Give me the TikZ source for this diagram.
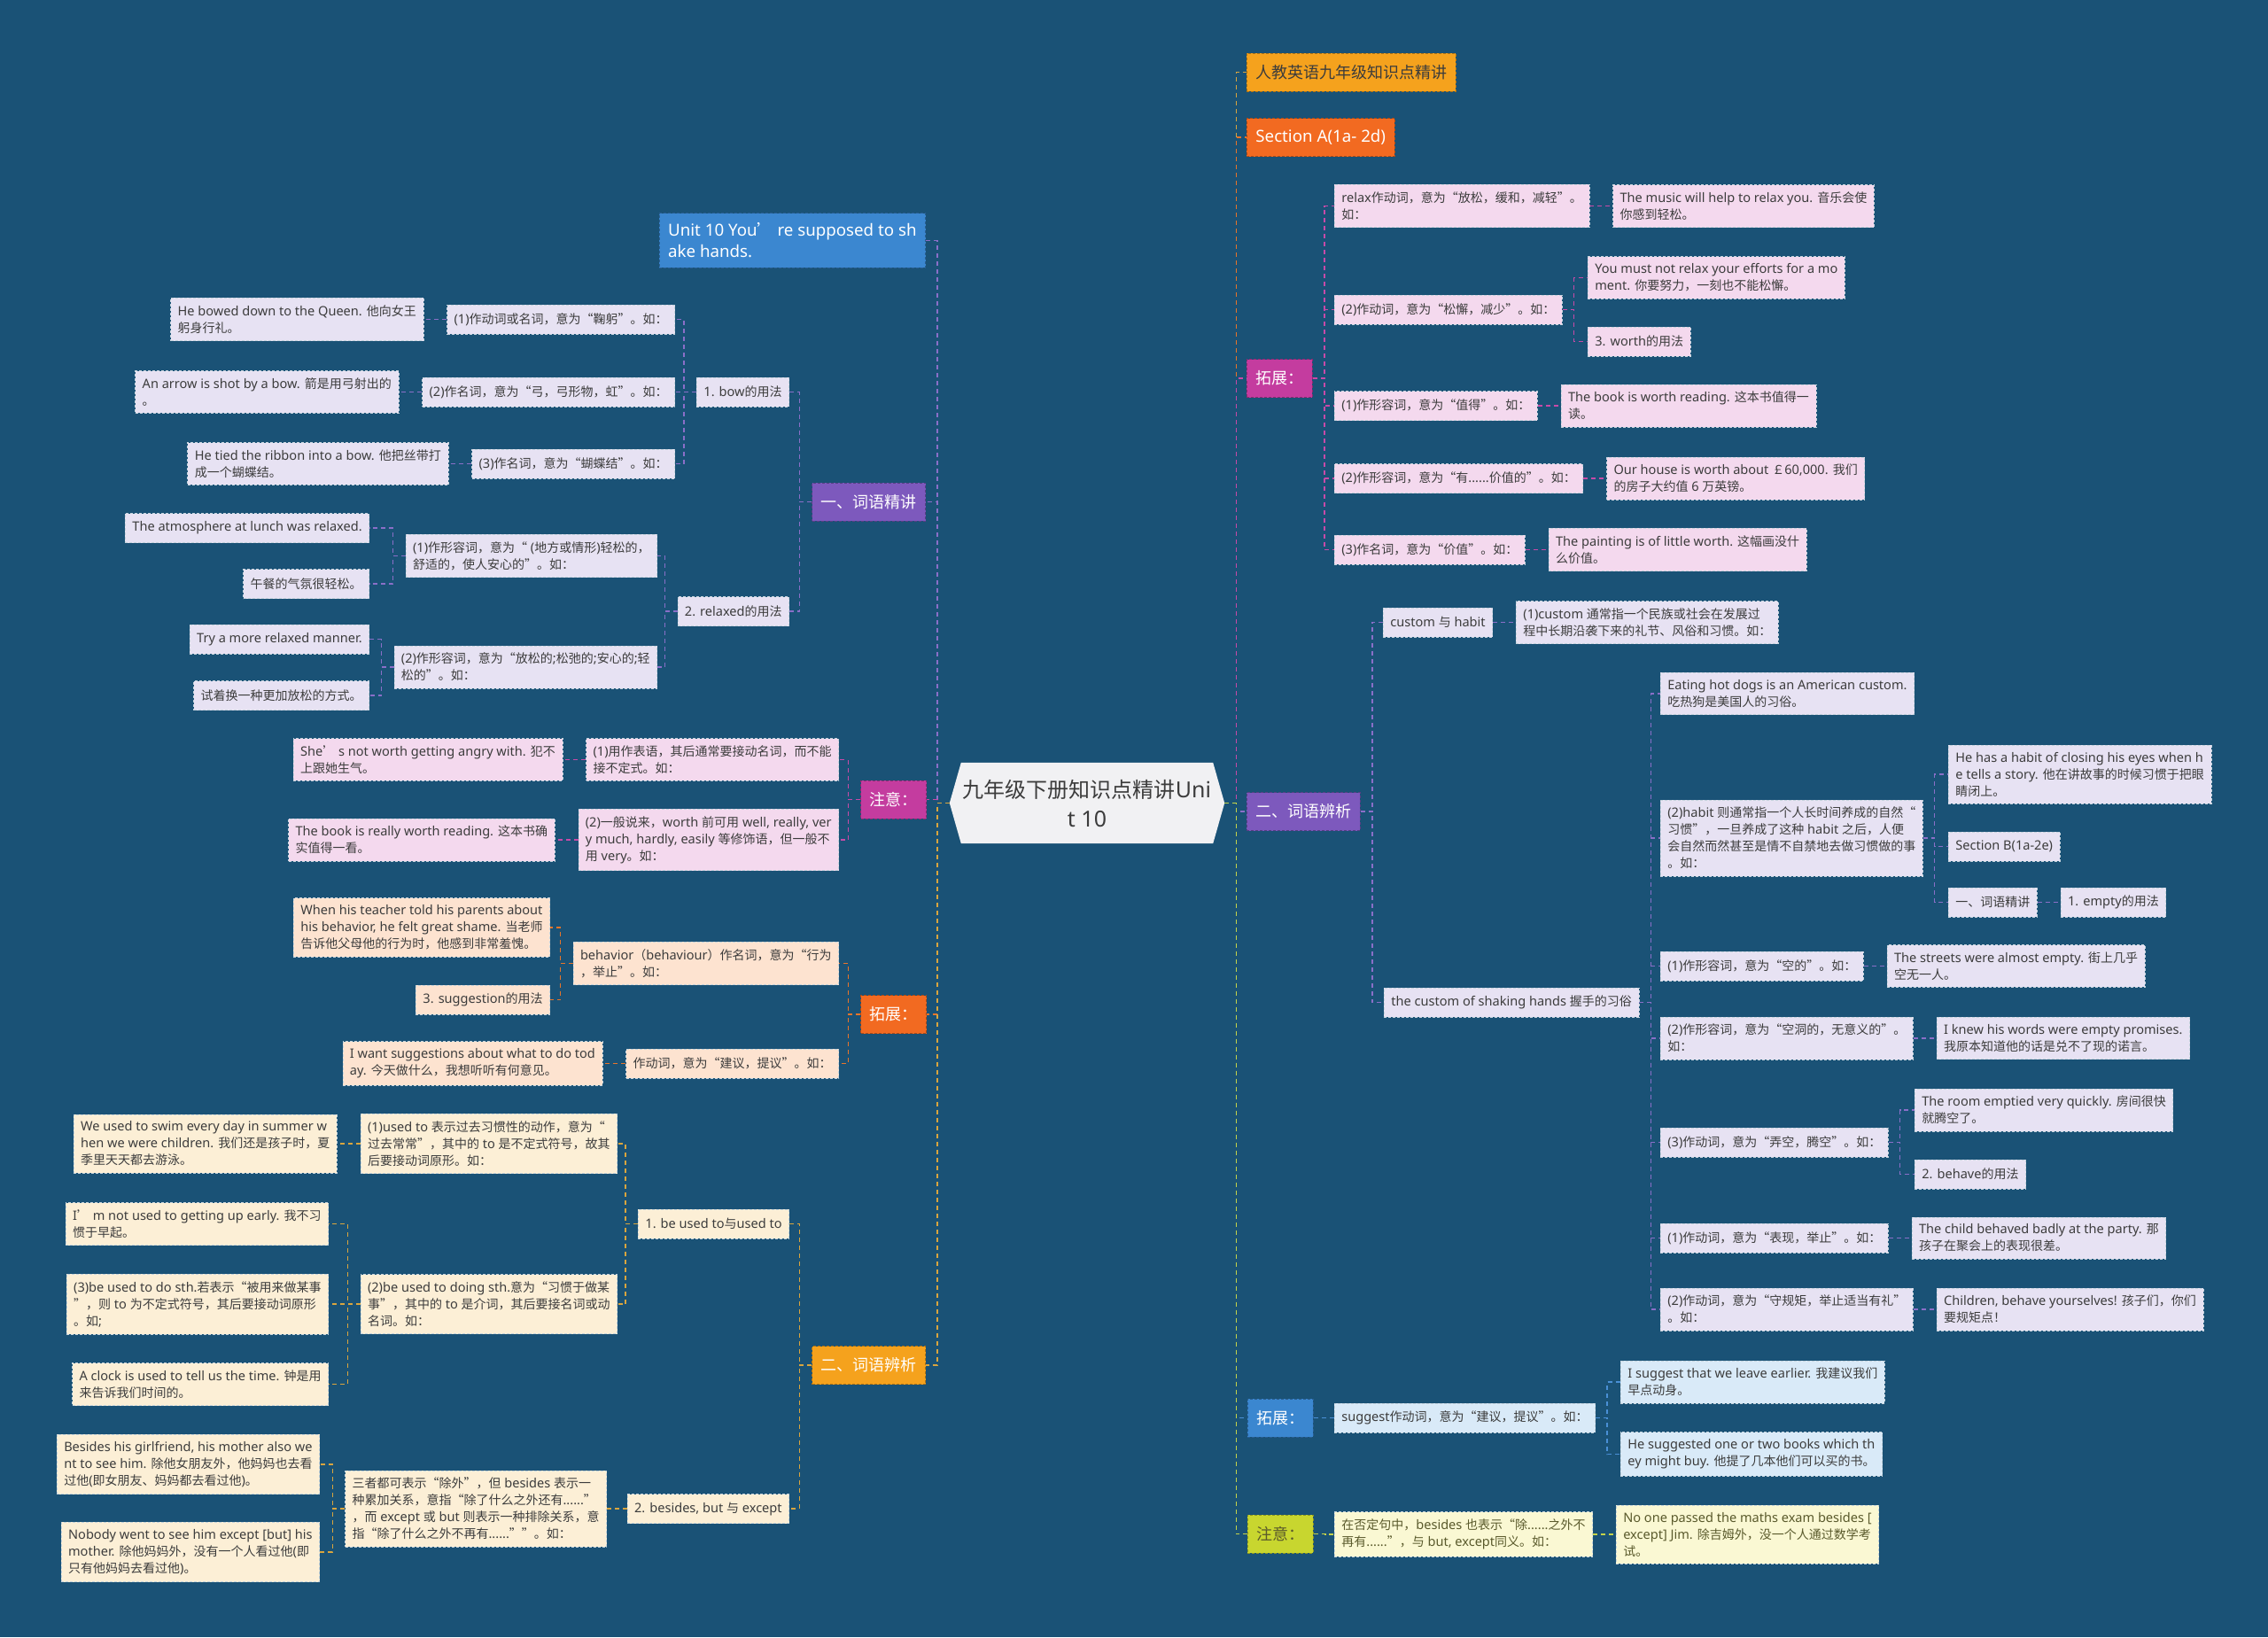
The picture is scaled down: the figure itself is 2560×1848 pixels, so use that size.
\documentclass[tikz,border=0pt]{standalone}
\usepackage{fontspec}
\setmainfont{Noto Sans}[Scale=1.04]
\newfontfamily\cjkfont{Noto Sans CJK SC}
\usetikzlibrary{positioning,backgrounds}

% CJK characters in their own font, Latin in Noto Sans
\newXeTeXintercharclass\cjkclass
\makeatletter
\count@="4E00
\loop \XeTeXcharclass\count@=\cjkclass \advance\count@ by 1 \ifnum\count@<"A000 \repeat
\count@="3000
\loop \XeTeXcharclass\count@=\cjkclass \advance\count@ by 1 \ifnum\count@<"3040 \repeat
\count@="FF00
\loop \XeTeXcharclass\count@=\cjkclass \advance\count@ by 1 \ifnum\count@<"FFF0 \repeat
\count@="2018
\loop \XeTeXcharclass\count@=\cjkclass \advance\count@ by 1 \ifnum\count@<"201E \repeat
\makeatother
\XeTeXinterchartokenstate=1
\XeTeXinterchartoks 0 \cjkclass = {\cjkfont}
\XeTeXinterchartoks 4095 \cjkclass = {\cjkfont}
\XeTeXinterchartoks \cjkclass 0 = {\rmfamily}
\XeTeXinterchartoks \cjkclass 4095 = {\rmfamily}

\definecolor{bgblue}{HTML}{1A5276}
\definecolor{txtgray}{HTML}{3C3C3C}
\definecolor{olivetxt}{HTML}{5A5A2C}
\definecolor{rootfill}{HTML}{F1F1F3}
\definecolor{lavfill}{HTML}{E7E2F3}
\definecolor{pinkfill}{HTML}{F4D9EE}
\definecolor{peachfill}{HTML}{FDE3D0}
\definecolor{creamfill}{HTML}{FCEFD6}
\definecolor{skyfill}{HTML}{D9EAF8}
\definecolor{limefill}{HTML}{FAF8D3}
\definecolor{purphead}{HTML}{7D59BD}
\definecolor{magenhead}{HTML}{C43C9F}
\definecolor{orghead}{HTML}{F26A21}
\definecolor{ambhead}{HTML}{F5A21D}
\definecolor{bluehead}{HTML}{3B87D0}
\definecolor{limehead}{HTML}{C8D62F}
\definecolor{purpline}{HTML}{8A6FC8}
\definecolor{magline}{HTML}{C84AA8}
\definecolor{orgline}{HTML}{E8752A}
\definecolor{ambline}{HTML}{D9A53E}
\definecolor{blueline}{HTML}{4A90D6}
\definecolor{limeline}{HTML}{C5D44A}

\begin{document}
\begin{tikzpicture}[x=1pt, y=-1pt,
    box/.style={rectangle, draw=white!75!bgblue, densely dashed, line width=0.7pt, inner xsep=8pt, inner ysep=8pt, minimum height=33pt, align=left, text=txtgray, font=\fontsize{14}{19}\selectfont},
    lavbox/.style={box, fill=lavfill},
    pinkbox/.style={box, fill=pinkfill},
    peachbox/.style={box, fill=peachfill},
    creambox/.style={box, fill=creamfill},
    skybox/.style={box, fill=skyfill},
    limebox/.style={box, fill=limefill, text=olivetxt},
    head/.style={rectangle, densely dashed, line width=0.8pt, inner xsep=10pt, inner ysep=6pt, minimum height=43pt, align=left, text=white, font=\fontsize{18}{24}\selectfont},
    headpurple/.style={head, fill=purphead, draw=purphead!70!black},
    headmagenta/.style={head, fill=magenhead, draw=magenhead!70!black},
    headorange/.style={head, fill=orghead, draw=orghead!70!black},
    headamber/.style={head, fill=ambhead, draw=ambhead!70!black},
    headblue/.style={head, fill=bluehead, draw=bluehead!70!black},
    headlime/.style={head, fill=limehead, draw=limehead!70!black, text=olivetxt},
    rootnode/.style={rectangle, minimum width=310pt, minimum height=91pt, inner sep=0pt, align=center, text=txtgray, font=\fontsize{24}{33}\selectfont},
    lk/.style={dash pattern=on 5pt off 4pt, line width=1.4pt},
    toleft/.style={lk, to path={-- ++(-14,0) |- (\tikztotarget)}},
    toright/.style={lk, to path={-- ++(13,0) |- (\tikztotarget)}}
]

% Background
\useasboundingbox (0,0) rectangle (2560,1848);
\begin{scope}[on background layer]
  \fill[bgblue] (0,0) rectangle (2560,1848);
\end{scope}

% Root
\node[rootnode] (root) at (1227,906.5) {九年级下册知识点精讲Uni\\t 10};
\begin{scope}[on background layer]
  \fill[rootfill] ([xshift=13pt]root.north west) -- ([xshift=-13pt]root.north east) -- (root.east)
    -- ([xshift=-13pt]root.south east) -- ([xshift=13pt]root.south west) -- (root.west) -- cycle;
\end{scope}

% Left main branches
\node[headblue, anchor=east, inner ysep=11pt] (unit) at (1045,271.5) {Unit 10 You’ re supposed to sh\\ake hands.};
\node[headpurple, anchor=east] (ci1) at (1045,566.5) {一、词语精讲};
\node[headmagenta, anchor=east] (zy1) at (1046,902.5) {注意：};
\node[headorange, anchor=east] (tz1) at (1046,1145) {拓展：};
\node[headamber, anchor=east] (ci2) at (1045,1541) {二、词语辨析};

% 一、词语精讲 (left)
\node[lavbox, anchor=east] (bow) at (891,442.5) {1. bow的用法};
\node[lavbox, anchor=east] (rel) at (891,690) {2. relaxed的用法};
\node[lavbox, anchor=east] (bowa) at (762,360.5) {(1)作动词或名词，意为“鞠躬”。如：};
\node[lavbox, anchor=east] (bowb) at (762,442.5) {(2)作名词，意为“弓，弓形物，虹”。如：};
\node[lavbox, anchor=east] (bowc) at (762,523.5) {(3)作名词，意为“蝴蝶结”。如：};
\node[lavbox, left=26pt of bowa] (bowaex) {He bowed down to the Queen. 他向女王\\躬身行礼。};
\node[lavbox, left=26pt of bowb] (bowbex) {An arrow is shot by a bow. 箭是用弓射出的\\。};
\node[lavbox, left=26pt of bowc] (bowcex) {He tied the ribbon into a bow. 他把丝带打\\成一个蝴蝶结。};
\node[lavbox, anchor=east] (rela) at (742,627.5) {(1)作形容词，意为“ (地方或情形)轻松的，\\舒适的，使人安心的”。如：};
\node[lavbox, anchor=east] (relb) at (742,753) {(2)作形容词，意为“放松的;松弛的;安心的;轻\\松的”。如：};
\node[lavbox, anchor=east] (relaex) at (417,596) {The atmosphere at lunch was relaxed.};
\node[lavbox, anchor=east] (relaexb) at (417,659) {午餐的气氛很轻松。};
\node[lavbox, anchor=east] (relbex) at (417,721.5) {Try a more relaxed manner.};
\node[lavbox, anchor=east] (relbexb) at (417,785) {试着换一种更加放松的方式。};

% 注意 (left)
\node[pinkbox, anchor=east] (zya) at (947,857.5) {(1)用作表语，其后通常要接动名词，而不能\\接不定式。如：};
\node[pinkbox, anchor=east] (zyb) at (947,948) {(2)一般说来，worth 前可用 well, really, ver\\y much, hardly, easily 等修饰语，但一般不\\用 very。如：};
\node[pinkbox, left=26pt of zya] (zyaex) {She’ s not worth getting angry with. 犯不\\上跟她生气。};
\node[pinkbox, left=26pt of zyb] (zybex) {The book is really worth reading. 这本书确\\实值得一看。};

% 拓展 (left)
\node[peachbox, anchor=east] (beh) at (947,1087.5) {behavior（behaviour）作名词，意为“行为\\，举止”。如：};
\node[peachbox, anchor=east] (sgv) at (947,1200.5) {作动词，意为“建议，提议”。如：};
\node[peachbox, anchor=east] (behex) at (621,1047) {When his teacher told his parents about\\his behavior, he felt great shame. 当老师\\告诉他父母他的行为时，他感到非常羞愧。};
\node[peachbox, anchor=east] (sgn) at (621,1128.5) {3. suggestion的用法};
\node[peachbox, left=26pt of sgv] (sgvex) {I want suggestions about what to do tod\\ay. 今天做什么，我想听听有何意见。};

% 二、词语辨析 (left)
\node[creambox, anchor=east] (used) at (891,1381.5) {1. be used to与used to};
\node[creambox, anchor=east] (bes) at (891,1703) {2. besides, but 与 except};
\node[creambox, anchor=east] (useda) at (697,1291) {(1)used to 表示过去习惯性的动作，意为“\\过去常常”，其中的 to 是不定式符号，故其\\后要接动词原形。如：};
\node[creambox, anchor=east] (usedb) at (697,1472) {(2)be used to doing sth.意为“习惯于做某\\事”，其中的 to 是介词，其后要接名词或动\\名词。如：};
\node[creambox, left=26pt of useda] (usedaex) {We used to swim every day in summer w\\hen we were children. 我们还是孩子时，夏\\季里天天都去游泳。};
\node[creambox, anchor=east] (usedbex) at (371,1381.5) {I’ m not used to getting up early. 我不习\\惯于早起。};
\node[creambox, anchor=east] (usedc) at (371,1472) {(3)be used to do sth.若表示“被用来做某事\\”，则 to 为不定式符号，其后要接动词原形\\。如;};
\node[creambox, anchor=east] (usedbexb) at (371,1562.5) {A clock is used to tell us the time. 钟是用\\来告诉我们时间的。};
\node[creambox, anchor=east] (besa) at (685,1703) {三者都可表示“除外”，但 besides 表示一\\种累加关系，意指“除了什么之外还有......”\\，而 except 或 but 则表示一种排除关系，意\\指“除了什么之外不再有......””。如：};
\node[creambox, anchor=east] (besaex) at (361,1653) {Besides his girlfriend, his mother also we\\nt to see him. 除他女朋友外，他妈妈也去看\\过他(即女朋友、妈妈都去看过他)。};
\node[creambox, anchor=east] (besaexb) at (361,1752) {Nobody went to see him except [but] his\\mother. 除他妈妈外，没有一个人看过他(即\\只有他妈妈去看过他)。};

% Right main branches
\node[headamber, text=txtgray, anchor=west] (rj) at (1407,81.5) {人教英语九年级知识点精讲};
\node[headorange, anchor=west] (seca) at (1407,155) {Section A(1a- 2d)};
\node[headmagenta, anchor=west] (tz2) at (1407,427) {拓展：};
\node[headpurple, anchor=west] (ci3) at (1407,916) {二、词语辨析};
\node[headblue, anchor=west] (tz3) at (1408,1600.5) {拓展：};
\node[headlime, anchor=west] (zy2) at (1408,1731.5) {注意：};

% 拓展 (right)
\node[pinkbox, anchor=west] (rxa) at (1506,232.5) {relax作动词，意为“放松，缓和，减轻”。\\如：};
\node[pinkbox, anchor=west] (rxb) at (1506,349.5) {(2)作动词，意为“松懈，减少”。如：};
\node[pinkbox, anchor=west] (wta) at (1506,458) {(1)作形容词，意为“值得”。如：};
\node[pinkbox, anchor=west] (wtb) at (1506,540) {(2)作形容词，意为“有......价值的”。如：};
\node[pinkbox, anchor=west] (wtc) at (1506,620.5) {(3)作名词，意为“价值”。如：};
\node[pinkbox, right=26pt of rxa] (rxaex) {The music will help to relax you. 音乐会使\\你感到轻松。};
\node[pinkbox, anchor=west] (rxbex) at (1792,313.5) {You must not relax your efforts for a mo\\ment. 你要努力，一刻也不能松懈。};
\node[pinkbox, anchor=west] (worth) at (1792,385.5) {3. worth的用法};
\node[pinkbox, right=26pt of wta] (wtaex) {The book is worth reading. 这本书值得一\\读。};
\node[pinkbox, right=26pt of wtb] (wtbex) {Our house is worth about ￡60,000. 我们\\的房子大约值 6 万英镑。};
\node[pinkbox, right=26pt of wtc] (wtcex) {The painting is of little worth. 这幅画没什\\么价值。};

% 二、词语辨析 (right)
\node[lavbox, anchor=west] (ch) at (1561,702.5) {custom 与 habit};
\node[lavbox, right=26pt of ch] (cha) {(1)custom 通常指一个民族或社会在发展过\\程中长期沿袭下来的礼节、风俗和习惯。如：};
\node[lavbox, anchor=west] (sh) at (1562,1131.5) {the custom of shaking hands 握手的习俗};
\node[lavbox, anchor=west] (eat) at (1874,783) {Eating hot dogs is an American custom.\\吃热狗是美国人的习俗。};
\node[lavbox, anchor=west] (hab) at (1874,946) {(2)habit 则通常指一个人长时间养成的自然“\\习惯”，一旦养成了这种 habit 之后，人便\\会自然而然甚至是情不自禁地去做习惯做的事\\。如：};
\node[lavbox, anchor=west] (ema) at (1874,1090.5) {(1)作形容词，意为“空的”。如：};
\node[lavbox, anchor=west] (emb) at (1874,1172) {(2)作形容词，意为“空洞的，无意义的”。\\如：};
\node[lavbox, anchor=west] (emc) at (1874,1289.5) {(3)作动词，意为“弄空，腾空”。如：};
\node[lavbox, anchor=west] (bha) at (1874,1397.5) {(1)作动词，意为“表现，举止”。如：};
\node[lavbox, anchor=west] (bhb) at (1874,1478) {(2)作动词，意为“守规矩，举止适当有礼”\\。如：};
\node[lavbox, anchor=west] (habex) at (2199,874) {He has a habit of closing his eyes when h\\e tells a story. 他在讲故事的时候习惯于把眼\\睛闭上。};
\node[lavbox, anchor=west] (secb) at (2199,955.5) {Section B(1a-2e)};
\node[lavbox, anchor=west] (cjj) at (2199,1018.5) {一、词语精讲};
\node[lavbox, right=26pt of cjj] (empty) {1. empty的用法};
\node[lavbox, right=26pt of ema] (emaex) {The streets were almost empty. 街上几乎\\空无一人。};
\node[lavbox, right=26pt of emb] (embex) {I knew his words were empty promises.\\我原本知道他的话是兑不了现的诺言。};
\node[lavbox, anchor=west] (emcex) at (2161,1253) {The room emptied very quickly. 房间很快\\就腾空了。};
\node[lavbox, anchor=west] (behave) at (2161,1325.5) {2. behave的用法};
\node[lavbox, right=26pt of bha] (bhaex) {The child behaved badly at the party. 那\\孩子在聚会上的表现很差。};
\node[lavbox, right=26pt of bhb] (bhbex) {Children, behave yourselves! 孩子们，你们\\要规矩点！};

% 拓展 (right, blue)
\node[skybox, anchor=west] (sug) at (1506,1600.5) {suggest作动词，意为“建议，提议”。如：};
\node[skybox, anchor=west] (suga) at (1829,1560) {I suggest that we leave earlier. 我建议我们\\早点动身。};
\node[skybox, anchor=west] (sugb) at (1829,1641.5) {He suggested one or two books which th\\ey might buy. 他提了几本他们可以买的书。};

% 注意 (right, lime)
\node[limebox, anchor=west] (neg) at (1506,1732) {在否定句中，besides 也表示“除......之外不\\再有......”，与 but, except同义。如：};
\node[limebox, right=26pt of neg] (negex) {No one passed the maths exam besides [\\except] Jim. 除吉姆外，没一个人通过数学考\\试。};

% Connections, left
\draw[toleft, purpline] (root.west) to (unit.east);
\draw[toleft, purpline] (root.west) to (ci1.east);
\draw[toleft, magline] (root.west) to (zy1.east);
\draw[toleft, orgline] (root.west) to (tz1.east);
\draw[toleft, ambline] (root.west) to (ci2.east);

\draw[toleft, purpline] (ci1.west) to (bow.east);
\draw[toleft, purpline] (ci1.west) to (rel.east);
\draw[toleft, purpline] (bow.west) to (bowa.east);
\draw[toleft, purpline] (bow.west) to (bowb.east);
\draw[toleft, purpline] (bow.west) to (bowc.east);
\draw[toleft, purpline] (bowa.west) to (bowaex.east);
\draw[toleft, purpline] (bowb.west) to (bowbex.east);
\draw[toleft, purpline] (bowc.west) to (bowcex.east);
\draw[toleft, purpline] (rel.west) to (rela.east);
\draw[toleft, purpline] (rel.west) to (relb.east);
\draw[toleft, purpline] (rela.west) to (relaex.east);
\draw[toleft, purpline] (rela.west) to (relaexb.east);
\draw[toleft, purpline] (relb.west) to (relbex.east);
\draw[toleft, purpline] (relb.west) to (relbexb.east);

\draw[toleft, magline] (zy1.west) to (zya.east);
\draw[toleft, magline] (zy1.west) to (zyb.east);
\draw[toleft, magline] (zya.west) to (zyaex.east);
\draw[toleft, magline] (zyb.west) to (zybex.east);

\draw[toleft, orgline] (tz1.west) to (beh.east);
\draw[toleft, orgline] (tz1.west) to (sgv.east);
\draw[toleft, orgline] (beh.west) to (behex.east);
\draw[toleft, orgline] (beh.west) to (sgn.east);
\draw[toleft, orgline] (sgv.west) to (sgvex.east);

\draw[toleft, ambline] (ci2.west) to (used.east);
\draw[toleft, ambline] (ci2.west) to (bes.east);
\draw[toleft, ambline] (used.west) to (useda.east);
\draw[toleft, ambline] (used.west) to (usedb.east);
\draw[toleft, ambline] (useda.west) to (usedaex.east);
\draw[toleft, ambline] (usedb.west) to (usedbex.east);
\draw[toleft, ambline] (usedb.west) to (usedc.east);
\draw[toleft, ambline] (usedb.west) to (usedbexb.east);
\draw[toleft, ambline] (bes.west) to (besa.east);
\draw[toleft, ambline] (besa.west) to (besaex.east);
\draw[toleft, ambline] (besa.west) to (besaexb.east);

% Connections, right
\draw[toright, ambline] (root.east) to (rj.west);
\draw[toright, orgline] (root.east) to (seca.west);
\draw[toright, magline] (root.east) to (tz2.west);
\draw[toright, purpline] (root.east) to (ci3.west);
\draw[toright, blueline] (root.east) to (tz3.west);
\draw[toright, limeline] (root.east) to (zy2.west);

\draw[toright, magline] (tz2.east) to (rxa.west);
\draw[toright, magline] (tz2.east) to (rxb.west);
\draw[toright, magline] (tz2.east) to (wta.west);
\draw[toright, magline] (tz2.east) to (wtb.west);
\draw[toright, magline] (tz2.east) to (wtc.west);
\draw[toright, magline] (rxa.east) to (rxaex.west);
\draw[toright, magline] (rxb.east) to (rxbex.west);
\draw[toright, magline] (rxb.east) to (worth.west);
\draw[toright, magline] (wta.east) to (wtaex.west);
\draw[toright, magline] (wtb.east) to (wtbex.west);
\draw[toright, magline] (wtc.east) to (wtcex.west);

\draw[toright, purpline] (ci3.east) to (ch.west);
\draw[toright, purpline] (ci3.east) to (sh.west);
\draw[toright, purpline] (ch.east) to (cha.west);
\draw[toright, purpline] (sh.east) to (eat.west);
\draw[toright, purpline] (sh.east) to (hab.west);
\draw[toright, purpline] (sh.east) to (ema.west);
\draw[toright, purpline] (sh.east) to (emb.west);
\draw[toright, purpline] (sh.east) to (emc.west);
\draw[toright, purpline] (sh.east) to (bha.west);
\draw[toright, purpline] (sh.east) to (bhb.west);
\draw[toright, purpline] (hab.east) to (habex.west);
\draw[toright, purpline] (hab.east) to (secb.west);
\draw[toright, purpline] (hab.east) to (cjj.west);
\draw[toright, purpline] (cjj.east) to (empty.west);
\draw[toright, purpline] (ema.east) to (emaex.west);
\draw[toright, purpline] (emb.east) to (embex.west);
\draw[toright, purpline] (emc.east) to (emcex.west);
\draw[toright, purpline] (emc.east) to (behave.west);
\draw[toright, purpline] (bha.east) to (bhaex.west);
\draw[toright, purpline] (bhb.east) to (bhbex.west);

\draw[toright, blueline] (tz3.east) to (sug.west);
\draw[toright, blueline] (sug.east) to (suga.west);
\draw[toright, blueline] (sug.east) to (sugb.west);

\draw[toright, limeline] (zy2.east) to (neg.west);
\draw[toright, limeline] (neg.east) to (negex.west);

\end{tikzpicture}
\end{document}
